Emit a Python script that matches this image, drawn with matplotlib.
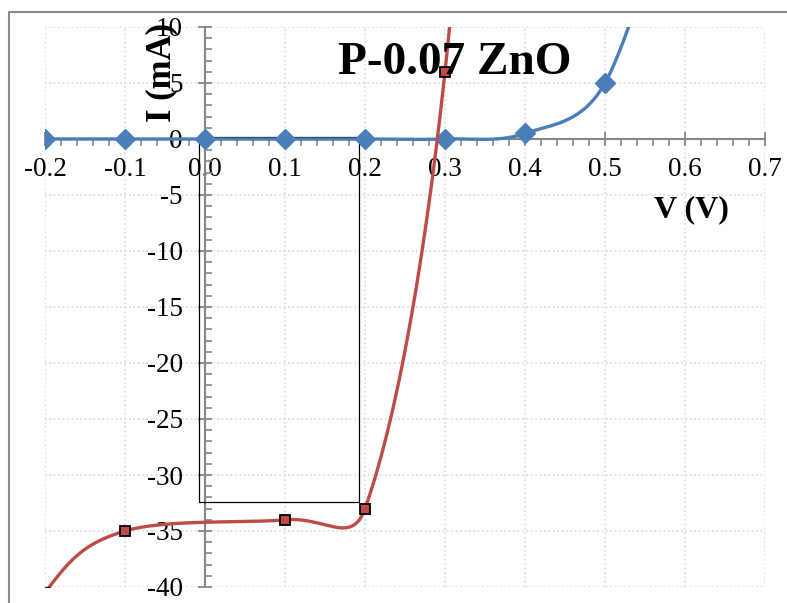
import numpy as np
import matplotlib.pyplot as plt
from matplotlib.lines import Line2D
from matplotlib.ticker import MultipleLocator, FormatStrFormatter

plt.rcParams['font.family'] = ['Liberation Serif', 'DejaVu Serif']
plt.rcParams['axes.unicode_minus'] = False

# dark I-V (blue) and illuminated I-V (red); V in volts, I in mA
# (points beyond the axis limits only shape the smoothed ends)
v_dark = [-0.2, -0.1, 0.0, 0.1, 0.2, 0.3, 0.4, 0.5, 0.6]
i_dark = [0, 0, 0, 0, 0, 0, 0.5, 5, 26]
v_light = [-0.3, -0.2, -0.1, 0.1, 0.2, 0.3, 0.4]
i_light = [-54, -40.5, -35, -34, -33, 6, 100]

# max power rectangle (V range, I range)
box_v = [-0.007, 0.193]
box_i = [-32.4, 0.2]

x_ticks = np.round(np.arange(-0.2, 0.71, 0.1), 1)
y_ticks = np.arange(-40, 11, 5)


def smooth(x, y, sx=800.0, sy=11.2, n=60):
    # excel style smoothed line: bezier segments with catmull-rom
    # tangents, shortened on short segments (measured on screen)
    p = np.column_stack([np.asarray(x) * sx, np.asarray(y) * sy]).astype(float)
    t = np.linspace(0, 1, n)[1:, None]
    out = [p[:1]]
    for k in range(len(p) - 1):
        a = p[max(k - 1, 0)]
        b, c = p[k], p[k + 1]
        d = p[min(k + 2, len(p) - 1)]
        lbc = np.hypot(*(c - b))
        f1 = min(1 / 6, 0.5 * lbc / np.hypot(*(c - a)))
        f2 = min(1 / 6, 0.5 * lbc / np.hypot(*(d - b)))
        c1 = b + (c - a) * f1
        c2 = c - (d - b) * f2
        out.append((1 - t)**3 * b + 3 * (1 - t)**2 * t * c1
                   + 3 * (1 - t) * t**2 * c2 + t**3 * c)
    s = np.vstack(out)
    return s[:, 0] / sx, s[:, 1] / sy


fig = plt.figure(figsize=(7.87, 6.03), dpi=100)
ax = fig.add_axes([45 / 787, 1 - 587 / 603, 720 / 787, 560 / 603])

# chart area border (only top and left are inside the picture)
fig.add_artist(Line2D([9 / 787, 9 / 787, 1], [0, 1 - 12 / 603, 1 - 12 / 603],
                      transform=fig.transFigure, color='#8a8a8a', lw=1.5))

ax.set_xlim(-0.2, 0.7)
ax.set_ylim(-40, 10)
ax.grid(True, which='major', color='#d9d9d9', linestyle=':', lw=1.2)
ax.set_axisbelow(True)

for s in ['top', 'right']:
    ax.spines[s].set_visible(False)
ax.spines['left'].set_position(('data', 0))
ax.spines['bottom'].set_position(('data', 0))
for s in ['left', 'bottom']:
    ax.spines[s].set_color('#868686')
    ax.spines[s].set_linewidth(1.5)
    ax.spines[s].set_zorder(1.5)

ax.set_xticks(x_ticks)
ax.set_yticks(y_ticks)
ax.xaxis.set_minor_locator(MultipleLocator(0.02))
ax.yaxis.set_minor_locator(MultipleLocator(1))
ax.xaxis.set_major_formatter(FormatStrFormatter('%.1f'))
ax.yaxis.set_major_formatter(FormatStrFormatter('%d'))
ax.tick_params(which='major', direction='inout', length=10, width=1.3,
               color='#868686', labelsize=19.5)
ax.tick_params(axis='x', which='major', pad=8)
ax.tick_params(axis='y', which='major', pad=11)
ax.tick_params(axis='x', which='minor', direction='out', length=5,
               width=1.2, color='#868686')
ax.tick_params(axis='y', which='minor', direction='in', length=5,
               width=1.2, color='#868686')

# max power box
ax.plot([box_v[0], box_v[1], box_v[1], box_v[0], box_v[0]],
        [box_i[1], box_i[1], box_i[0], box_i[0], box_i[1]],
        color='black', lw=0.9, zorder=2)

xs, ys = smooth(v_dark, i_dark)
ax.plot(xs, ys, color='#4a7ebb', lw=2.4, zorder=3)
ax.plot(v_dark, i_dark, 'D', color='#4a7ebb', ms=10, zorder=3)

xs, ys = smooth(v_light, i_light)
ax.plot(xs, ys, color='#be4b48', lw=2.4, zorder=4)
ax.plot(v_light, i_light, 's', color='#be4b48', mec='black', mew=1.3,
        ms=6.5, zorder=6)

fig.text(455 / 787, 1 - 63 / 603, 'P-0.07 ZnO', fontsize=34,
         fontweight='bold', ha='center', va='center', zorder=5)
fig.text(162 / 787, 1 - 72 / 603, 'I (mA)', fontsize=25, fontweight='bold',
         rotation=90, ha='center', va='center')
fig.text(691 / 787, 1 - 210 / 603, 'V (V)', fontsize=23, fontweight='bold',
         ha='center', va='center')

fig.savefig('out.png', dpi=100)
